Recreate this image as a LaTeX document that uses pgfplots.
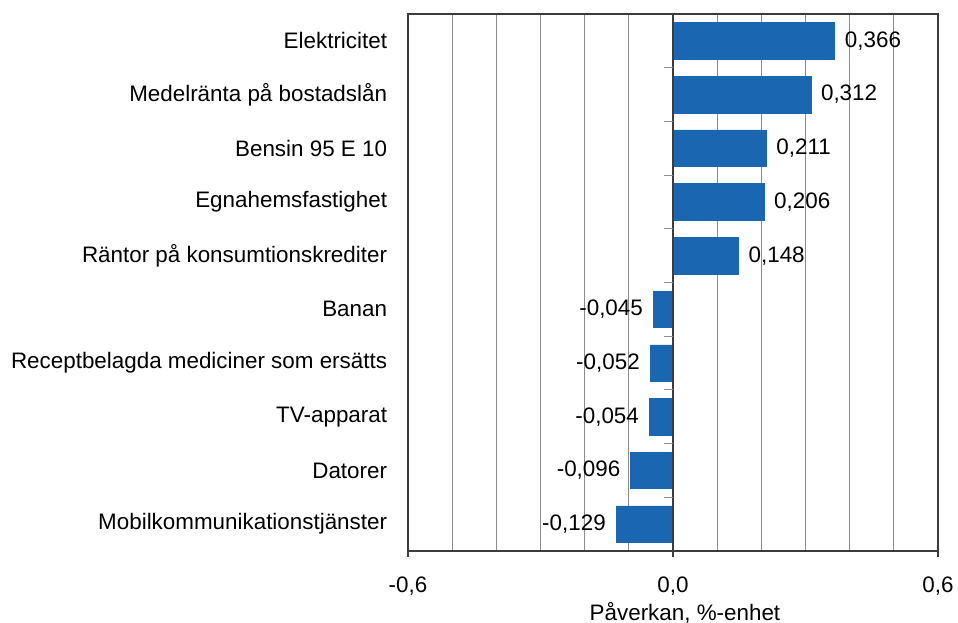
\documentclass[border=0pt]{standalone}
\usepackage{pgfplots}
\pgfplotsset{compat=1.18}
\usepackage{fontspec}
\setmainfont{Liberation Sans}
\definecolor{barblue}{RGB}{26,102,176}
\definecolor{gridgray}{RGB}{140,140,140}
\definecolor{axisdark}{RGB}{60,60,60}
\begin{document}
\begin{tikzpicture}
\useasboundingbox (-306pt,-54pt) rectangle (412.5pt,413.25pt);
\begin{axis}[
  at={(0,0)}, anchor=south west,
  scale only axis, width=397.5pt, height=402.75pt,
  xbar, bar width=0.68,
  xmin=-0.6, xmax=0.6, ymin=0.5, ymax=10.5,
  y dir=reverse,
  font=\fontsize{16.8}{19}\selectfont,
  /pgf/number format/assume math mode=true,
  axis line style={axisdark, line width=0.8pt},
  xtick={-0.6,0,0.6},
  xticklabels={-0{,}6, 0{,}0, 0{,}6},
  minor x tick num=5,
  xmajorgrids, xminorgrids,
  grid style={gridgray, line width=0.75pt},
  minor grid style={gridgray, line width=0.75pt},
  minor tick length=0pt,
  major tick length=4.5pt,
  tick align=outside,
  xtick pos=bottom,
  x tick style={axisdark, line width=0.8pt},
  xticklabel style={yshift=-11pt},
  xlabel={Påverkan, \%-enhet},
  xlabel style={yshift=1.5pt, xshift=9pt},
  ytick={1,...,10},
  yticklabels={Elektricitet, Medelränta på bostadslån, Bensin 95 E 10, Egnahemsfastighet, Räntor på konsumtionskrediter, Banan, Receptbelagda mediciner som ersätts, TV-apparat, Datorer, Mobilkommunikationstjänster},
  y tick style={draw=none},
  yticklabel style={inner sep=0pt, xshift=-11pt},
  nodes near coords,
  nodes near coords align=horizontal,
  every node near coord/.style={inner xsep=7.5pt, font=\fontsize{16.8}{19}\selectfont, text=black,
     /pgf/number format/.cd, fixed, fixed zerofill, precision=3, use comma},
  clip=false,
]
\addplot[draw=barblue, fill=barblue] coordinates {
 (0.366,1) (0.312,2) (0.211,3) (0.206,4) (0.148,5)
 (-0.045,6) (-0.052,7) (-0.054,8) (-0.096,9) (-0.129,10)};
\draw[axisdark, line width=0.8pt] (axis cs:0,0.5) -- (axis cs:0,10.5);
\pgfplotsinvokeforeach{1.5,2.5,...,9.5}{
  \draw[gridgray, line width=0.8pt] ([xshift=-6.5pt]axis cs:0,#1) -- (axis cs:0,#1);
}
\end{axis}
\end{tikzpicture}
\end{document}
